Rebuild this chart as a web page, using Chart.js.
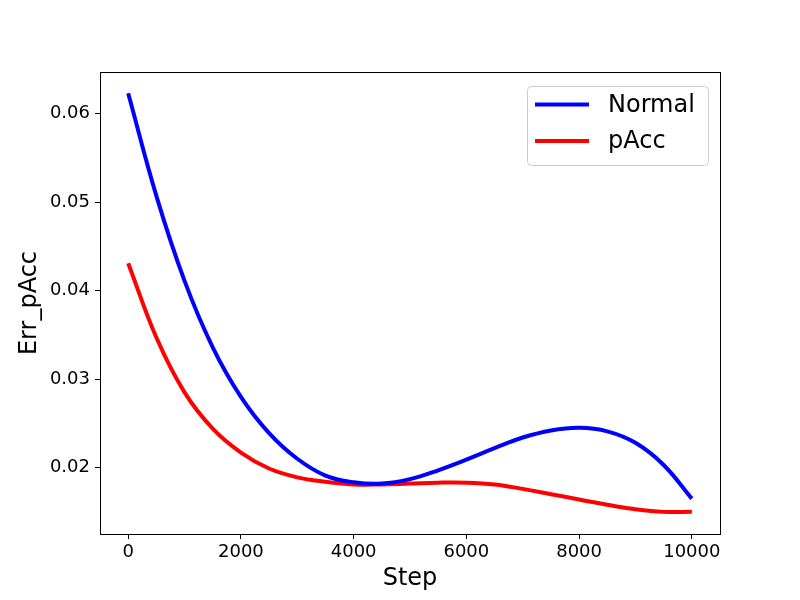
<!DOCTYPE html>
<html>
<head>
<meta charset="utf-8">
<script src="https://cdn.jsdelivr.net/npm/chart.js@4/dist/chart.umd.min.js"></script>
<style>
  html, body { margin: 0; padding: 0; background: #fff; }
  #wrap { width: 800px; height: 600px; }
</style>
</head>
<body>
<div id="wrap"><canvas id="chart" width="800" height="600"></canvas></div>
<script>
// data
const steps = [0, 500, 1000, 1500, 2000, 2500, 3000, 3500, 4000, 4500, 5000,
               5500, 6000, 6500, 7000, 7500, 8000, 8500, 9000, 9500, 10000];
const normalErr = [0.0623, 0.0507, 0.0411, 0.0336, 0.0280, 0.0239, 0.0210, 0.0191, 0.01835, 0.0182, 0.0187,
                   0.0197, 0.0209, 0.0222, 0.0234, 0.0242, 0.0245, 0.0241, 0.0228, 0.0203, 0.0165];
const paccErr = [0.0431, 0.0347, 0.0285, 0.0244, 0.0217, 0.0199, 0.0189, 0.0184, 0.0181, 0.0181, 0.0182,
                 0.0183, 0.0183, 0.0181, 0.0176, 0.0170, 0.0164, 0.0158, 0.0153, 0.0150, 0.0150];
const xTicks = [0, 2000, 4000, 6000, 8000, 10000];
const yTicks = [0.02, 0.03, 0.04, 0.05, 0.06];
const seriesNames = ['Normal', 'pAcc'];
const seriesColors = ['#0000ff', '#ff0000'];

const FONT = 'DejaVu Sans, sans-serif';

function toPoints(ys) {
    return steps.map((s, i) => ({ x: s, y: ys[i] }));
}

// frame around the plot area (matplotlib style box)
const frameBox = {
    id: 'frameBox',
    afterDraw(chart) {
        const { ctx, chartArea: a } = chart;
        ctx.save();
        ctx.strokeStyle = '#000';
        ctx.lineWidth = 1;
        ctx.strokeRect(a.left + 0.5, a.top + 0.5, a.right - a.left, a.bottom - a.top);
        ctx.restore();
    }
};

// legend drawn inside the axes, upper right
const insideLegend = {
    id: 'insideLegend',
    afterDraw(chart) {
        const { ctx, chartArea: a } = chart;
        const w = 181, h = 79;
        const x0 = a.right - 12 - w, y0 = a.top + 14;
        ctx.save();
        ctx.fillStyle = 'rgba(255,255,255,0.8)';
        ctx.strokeStyle = '#cccccc';
        ctx.lineWidth = 1;
        ctx.beginPath();
        ctx.roundRect(x0 + 0.5, y0 + 0.5, w, h, 4);
        ctx.fill();
        ctx.stroke();
        ctx.font = '24px ' + FONT;
        ctx.textBaseline = 'middle';
        chart.data.datasets.forEach((ds, i) => {
            const y = y0 + 18.5 + i * 36.5;
            ctx.strokeStyle = ds.borderColor;
            ctx.lineWidth = 4;
            ctx.beginPath();
            ctx.moveTo(x0 + 8, y);
            ctx.lineTo(x0 + 62, y);
            ctx.stroke();
            ctx.fillStyle = '#000';
            ctx.fillText(ds.label, x0 + 81, y + 1);
        });
        ctx.restore();
    }
};

new Chart(document.getElementById('chart').getContext('2d'), {
    type: 'line',
    data: {
        datasets: [
            { label: seriesNames[0], data: toPoints(normalErr), borderColor: seriesColors[0] },
            { label: seriesNames[1], data: toPoints(paccErr), borderColor: seriesColors[1] }
        ]
    },
    options: {
        responsive: false,
        animation: false,
        layout: { padding: { top: 72, right: 80, left: 0, bottom: 0 } },
        elements: {
            line: { borderWidth: 4, tension: 0.4, fill: false },
            point: { radius: 0 }
        },
        plugins: {
            legend: { display: false },
            tooltip: { enabled: false }
        },
        scales: {
            x: {
                type: 'linear',
                min: -500,
                max: 10500,
                afterBuildTicks: axis => { axis.ticks = xTicks.map(v => ({ value: v })); },
                afterFit: axis => { axis.height = 66; },
                grid: { drawOnChartArea: false, drawTicks: true, tickLength: 5, color: '#000' },
                border: { display: true, color: '#000' },
                ticks: {
                    color: '#000',
                    font: { family: FONT, size: 18 },
                    padding: 3,
                    maxRotation: 0,
                    callback: v => String(v)
                },
                title: {
                    display: true,
                    text: 'Step',
                    color: '#000',
                    font: { family: FONT, size: 24 },
                    padding: { top: 0, bottom: 7 }
                }
            },
            y: {
                type: 'linear',
                min: 0.0125,
                max: 0.0647,
                afterBuildTicks: axis => { axis.ticks = yTicks.map(v => ({ value: v })); },
                afterFit: axis => { axis.width = 100; },
                grid: { drawOnChartArea: false, drawTicks: true, tickLength: 5, color: '#000' },
                border: { display: true, color: '#000' },
                ticks: {
                    color: '#000',
                    font: { family: FONT, size: 18 },
                    padding: 5,
                    callback: v => v.toFixed(2)
                },
                title: {
                    display: true,
                    text: 'Err_pAcc',
                    color: '#000',
                    font: { family: FONT, size: 24 },
                    padding: { top: 15, bottom: 0 }
                }
            }
        }
    },
    plugins: [frameBox, insideLegend]
});
</script>
</body>
</html>
